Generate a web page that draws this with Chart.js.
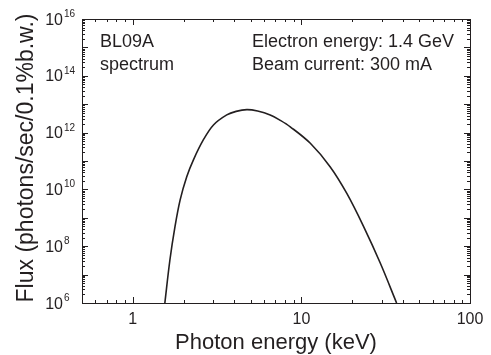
<!DOCTYPE html>
<html>
<head>
<meta charset="utf-8">
<title>BL09A spectrum</title>
<script src="https://cdn.jsdelivr.net/npm/chart.js@4/dist/chart.umd.min.js"></script>
<style>
    html, body { margin: 0; padding: 0; background: #fff; }
    #wrap { width: 491px; height: 355px; }
</style>
</head>
<body>
<div id="wrap"><canvas id="fluxChart" width="491" height="355"></canvas></div>
<script>
// Photon energy (keV) and flux (photons/sec/0.1%b.w.)
const energies = [1.55, 1.66, 1.78, 1.91, 2.09, 2.29, 2.62, 3.01, 3.61, 4.1, 4.75, 5.5, 6.53, 7.5, 8.59, 11.3, 14.8, 18.6, 23.4, 29.4, 36.7];
const fluxes = [1.0e6, 3.2e7, 4.9e8, 4.3e9, 2.8e10, 1.1e11, 5.5e11, 1.86e12, 4.2e12, 5.6e12, 6.45e12, 5.75e12, 4.2e12, 2.7e12, 1.6e12, 4.2e11, 6.3e10, 7.2e9, 4.9e8, 2.5e7, 1.0e6];

const xTickLabels = [1, 10, 100];
const yTickExponents = [6, 8, 10, 12, 14, 16];
const xRange = [0.5, 100];
const yRange = [1e6, 1e16];

const annotLeft = ['BL09A', 'spectrum'];
const annotRight = ['Electron energy: 1.4 GeV', 'Beam current: 300 mA'];

const INK = '#231f20';
const FONT = '"Liberation Sans", Arial, sans-serif';

// every 1..9 x 10^n between min and max
function logTicks(min, max) {
    const out = [];
    for (let d = Math.floor(Math.log10(min)); d <= Math.ceil(Math.log10(max)); d++) {
        for (let m = 1; m <= 9; m++) {
            const v = m * Math.pow(10, d);
            if (v >= min * 0.999 && v <= max * 1.001) out.push({ v: v, major: m === 1 });
        }
    }
    return out;
}

// frame, inward ticks on all sides, labels and text
const framePlugin = {
    id: 'framePlugin',
    afterDraw(chart) {
        const ctx = chart.ctx;
        const a = chart.chartArea;
        const xs = chart.scales.x;
        const ys = chart.scales.y;

        ctx.save();
        ctx.strokeStyle = INK;
        ctx.lineWidth = 1;
        ctx.strokeRect(Math.round(a.left) + 0.5, Math.round(a.top) + 0.5,
            Math.round(a.right - a.left), Math.round(a.bottom - a.top));

        ctx.beginPath();
        logTicks(xRange[0], xRange[1]).forEach(t => {
            const px = Math.round(xs.getPixelForValue(t.v)) + 0.5;
            const len = t.major ? 6 : 3;
            ctx.moveTo(px, a.bottom); ctx.lineTo(px, a.bottom - len);
            ctx.moveTo(px, a.top); ctx.lineTo(px, a.top + len);
        });
        logTicks(yRange[0], yRange[1]).forEach(t => {
            const py = Math.round(ys.getPixelForValue(t.v)) + 0.5;
            const len = t.major ? 6 : 3;
            ctx.moveTo(a.left, py); ctx.lineTo(a.left + len, py);
            ctx.moveTo(a.right, py); ctx.lineTo(a.right - len, py);
        });
        ctx.stroke();

        ctx.fillStyle = INK;

        // x tick labels
        ctx.font = '16px ' + FONT;
        ctx.textAlign = 'center';
        ctx.textBaseline = 'alphabetic';
        xTickLabels.forEach(v => {
            ctx.fillText(String(v), xs.getPixelForValue(v), a.bottom + 21);
        });

        // y tick labels: 10 with superscript exponent
        yTickExponents.forEach(e => {
            const py = ys.getPixelForValue(Math.pow(10, e));
            ctx.font = '16px ' + FONT;
            ctx.textAlign = 'right';
            ctx.fillText('10', 63, py + 5.5);
            ctx.font = '10px ' + FONT;
            ctx.textAlign = 'left';
            ctx.fillText(String(e), 64, py - 2);
        });

        // axis titles
        ctx.font = '22px ' + FONT;
        ctx.textAlign = 'center';
        ctx.fillText('Photon energy (keV)', (a.left + a.right) / 2, 349);

        ctx.save();
        ctx.translate(33, 158);
        ctx.rotate(-Math.PI / 2);
        ctx.font = '23px ' + FONT;
        ctx.fillText('Flux (photons/sec/0.1%b.w.)', 0, 0);
        ctx.restore();

        // annotations
        ctx.font = '18px ' + FONT;
        ctx.textAlign = 'left';
        annotLeft.forEach((s, i) => ctx.fillText(s, 100, 47 + i * 23));
        annotRight.forEach((s, i) => ctx.fillText(s, 252, 47 + i * 23));

        ctx.restore();
    }
};

const points = energies.map((e, i) => ({ x: e, y: fluxes[i] }));

new Chart(document.getElementById('fluxChart'), {
    type: 'scatter',
    data: {
        datasets: [{
            label: 'Flux',
            data: points,
            showLine: true,
            borderColor: INK,
            borderWidth: 1.6,
            pointRadius: 0,
            tension: 0.35,
            fill: false
        }]
    },
    options: {
        responsive: false,
        animation: false,
        devicePixelRatio: 1,
        layout: { padding: { left: 82, right: 21, top: 19, bottom: 52 } },
        plugins: {
            legend: { display: false },
            tooltip: { enabled: false }
        },
        scales: {
            x: { type: 'logarithmic', min: xRange[0], max: xRange[1], display: false },
            y: { type: 'logarithmic', min: yRange[0], max: yRange[1], display: false }
        }
    },
    plugins: [framePlugin]
});
</script>
</body>
</html>
